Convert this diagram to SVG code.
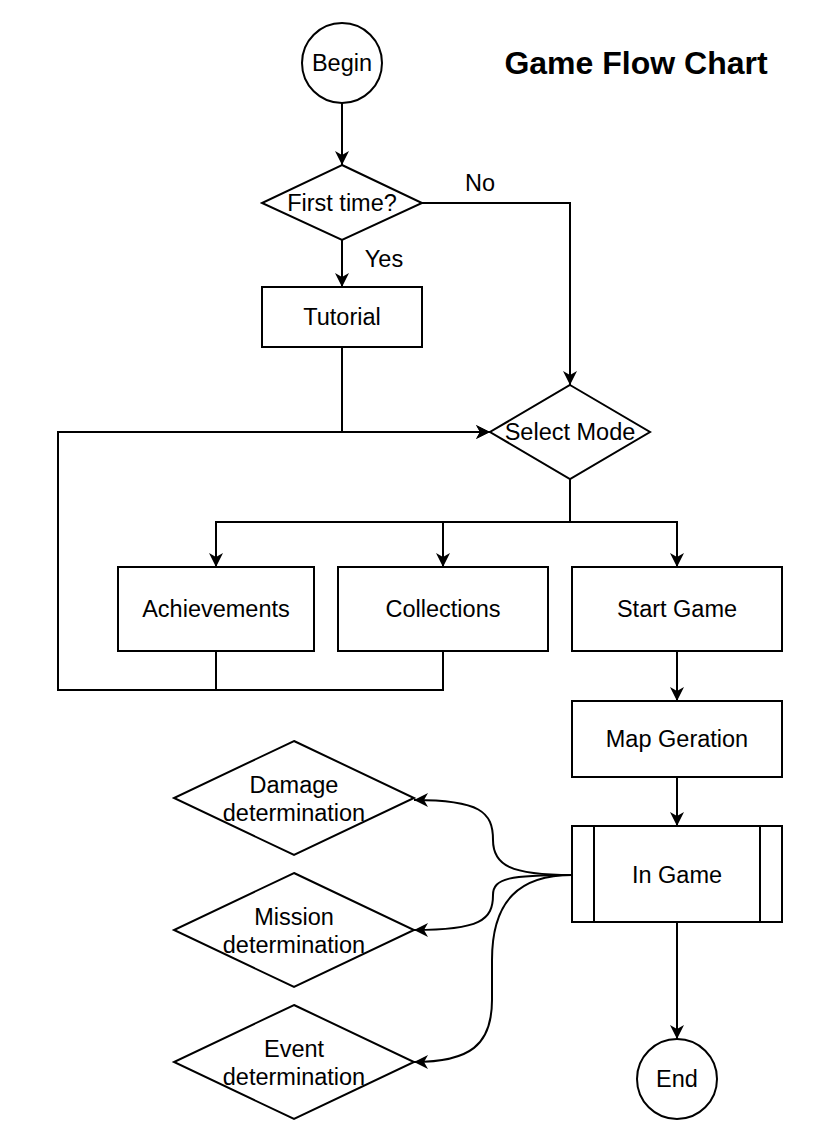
<svg xmlns="http://www.w3.org/2000/svg" width="840" height="1125" viewBox="0 0 840 1125">
  <style>
    .shape { fill: #ffffff; stroke: #000000; stroke-width: 2; }
    .edge { fill: none; stroke: #000000; stroke-width: 2; }
    .label { font-family: "Liberation Sans", Arial, sans-serif; font-size: 23.5px; fill: #000000; text-anchor: middle; }
    .title { font-family: "Liberation Sans", Arial, sans-serif; font-size: 32px; font-weight: bold; fill: #000000; text-anchor: middle; }
  </style>
  <defs>
    <marker id="arrow" viewBox="0 0 14 14" refX="14" refY="7" markerWidth="14" markerHeight="14" markerUnits="userSpaceOnUse" orient="auto">
      <path d="M0,0 L14,7 L0,14 L4,7 Z" fill="#000000"/>
    </marker>
  </defs>

  <rect width="840" height="1125" fill="#ffffff"/>

  <text class="title" x="636" y="74">Game Flow Chart</text>

  <!-- connectors -->
  <g id="connectors">
    <path class="edge" d="M342,103 L342,165" marker-end="url(#arrow)"/>
    <path class="edge" d="M342,240 L342,287" marker-end="url(#arrow)"/>
    <path class="edge" d="M422,203 L570,203 L570,385" marker-end="url(#arrow)"/>
    <path class="edge" d="M342,347 L342,432 L490,432" marker-end="url(#arrow)"/>
    <path class="edge" d="M216,651 L216,690 L58,690 L58,432 L490,432" marker-end="url(#arrow)"/>
    <path class="edge" d="M443,651 L443,690 L216,690"/>
    <path class="edge" d="M570,479 L570,522 L216,522 L216,567" marker-end="url(#arrow)"/>
    <path class="edge" d="M570,522 L443,522 L443,567" marker-end="url(#arrow)"/>
    <path class="edge" d="M570,522 L677,522 L677,567" marker-end="url(#arrow)"/>
    <path class="edge" d="M677,651 L677,701" marker-end="url(#arrow)"/>
    <path class="edge" d="M677,777 L677,826" marker-end="url(#arrow)"/>
    <path class="edge" d="M677,922 L677,1039" marker-end="url(#arrow)"/>
    <path class="edge" d="M572,875 C510,875 493,865 493,840 C493,812 480,800 414,800" marker-end="url(#arrow)"/>
    <path class="edge" d="M572,875 C510,875 493,878 493,895 C493,920 480,930 414,930" marker-end="url(#arrow)"/>
    <path class="edge" d="M572,875 C520,875 492,900 492,960 L492,1000 C492,1045 470,1062 414,1062" marker-end="url(#arrow)"/>
    <text class="label" x="480" y="191">No</text>
    <text class="label" x="384" y="267">Yes</text>
  </g>

  <g id="begin">
    <circle class="shape" cx="342" cy="63" r="40"/>
    <text class="label" x="342" y="71">Begin</text>
  </g>

  <g id="first-time">
    <polygon class="shape" points="342,165 422,203 342,240 262,203"/>
    <text class="label" x="342" y="211">First time?</text>
  </g>

  <g id="tutorial">
    <rect class="shape" x="262" y="287" width="160" height="60"/>
    <text class="label" x="342" y="325">Tutorial</text>
  </g>

  <g id="select-mode">
    <polygon class="shape" points="570,385 650,432 570,479 490,432"/>
    <text class="label" x="570" y="440">Select Mode</text>
  </g>

  <g id="achievements">
    <rect class="shape" x="118" y="567" width="196" height="84"/>
    <text class="label" x="216" y="617">Achievements</text>
  </g>

  <g id="collections">
    <rect class="shape" x="338" y="567" width="210" height="84"/>
    <text class="label" x="443" y="617">Collections</text>
  </g>

  <g id="start-game">
    <rect class="shape" x="572" y="567" width="210" height="84"/>
    <text class="label" x="677" y="617">Start Game</text>
  </g>

  <g id="map-generation">
    <rect class="shape" x="572" y="701" width="210" height="76"/>
    <text class="label" x="677" y="747">Map Geration</text>
  </g>

  <g id="in-game">
    <rect class="shape" x="572" y="826" width="210" height="96"/>
    <line class="edge" x1="594" y1="826" x2="594" y2="922"/>
    <line class="edge" x1="760" y1="826" x2="760" y2="922"/>
    <text class="label" x="677" y="883">In Game</text>
  </g>

  <g id="end">
    <circle class="shape" cx="677" cy="1079" r="40"/>
    <text class="label" x="677" y="1087">End</text>
  </g>

  <g id="damage">
    <polygon class="shape" points="294,741 414,798 294,855 174,798"/>
    <text class="label" x="294" y="793">Damage</text>
    <text class="label" x="294" y="821">determination</text>
  </g>

  <g id="mission">
    <polygon class="shape" points="294,873 414,930 294,987 174,930"/>
    <text class="label" x="294" y="925">Mission</text>
    <text class="label" x="294" y="953">determination</text>
  </g>

  <g id="event">
    <polygon class="shape" points="294,1005 414,1062 294,1119 174,1062"/>
    <text class="label" x="294" y="1057">Event</text>
    <text class="label" x="294" y="1085">determination</text>
  </g>
</svg>
